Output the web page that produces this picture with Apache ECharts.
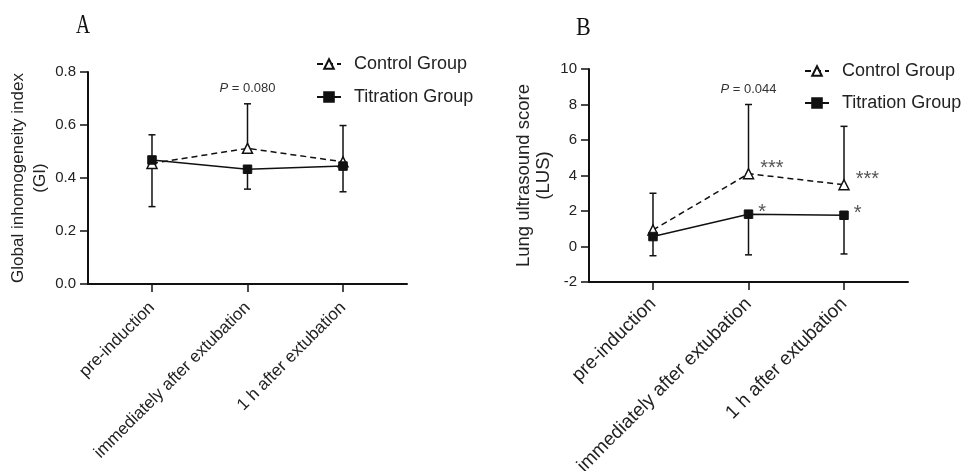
<!DOCTYPE html>
<html>
<head>
<meta charset="utf-8">
<script src="https://cdn.jsdelivr.net/npm/echarts/dist/echarts.min.js"></script>
<style>
  html, body { margin: 0; padding: 0; background: #fff; }
  #chart { width: 966px; height: 471px; }
</style>
</head>
<body>
<div id="chart"></div>
<script>
// time points
const stages = ['pre-induction', 'immediately after extubation', '1 h after extubation'];

// panel A: global inhomogeneity index (GI)
const giControl = [0.455, 0.512, 0.461];
const giControlUpper = [0.563, 0.680, 0.598];
const giTitration = [0.468, 0.433, 0.445];
const giTitrationLower = [0.292, 0.358, 0.348];
const giPText = ['', 'P = 0.080', ''];
const giTicks = [0, 0.2, 0.4, 0.6, 0.8];

// panel B: lung ultrasound score (LUS)
const lusControl = [0.93, 4.1, 3.48];
const lusControlUpper = [3.0, 8.0, 6.77];
const lusTitration = [0.56, 1.82, 1.76];
const lusTitrationLower = [-0.52, -0.47, -0.42];
const lusPText = ['', 'P = 0.044', ''];
const lusControlSig = ['', '***', '***'];
const lusTitrationSig = ['', '*', '*'];
const lusTicks = [-2, 0, 2, 4, 6, 8, 10];

const FONT = 'Liberation Sans, Arial, sans-serif';
const INK = '#111';

const chart = echarts.init(document.getElementById('chart'), null, { renderer: 'canvas' });

// vertical error bar from mean to one bound, with a small cap; optional P text above
function errorBar(pTexts) {
  return function (params, api) {
    const x = api.value(0);
    const p0 = api.coord([x, api.value(1)]);
    const p1 = api.coord([x, api.value(2)]);
    const half = 3.5;
    const kids = [
      { type: 'line', shape: { x1: p0[0], y1: p0[1], x2: p1[0], y2: p1[1] }, style: { stroke: INK, lineWidth: 1.5 } },
      { type: 'line', shape: { x1: p1[0] - half, y1: p1[1], x2: p1[0] + half, y2: p1[1] }, style: { stroke: INK, lineWidth: 1.5 } }
    ];
    const t = pTexts ? pTexts[params.dataIndex] : '';
    if (t) {
      kids.push({
        type: 'text',
        x: p1[0], y: p1[1] - 9,
        style: {
          text: '{i|P}' + t.slice(1),
          align: 'center', verticalAlign: 'bottom',
          fontSize: 13, fontFamily: FONT, fill: '#333',
          rich: { i: { fontStyle: 'italic', fontSize: 13, fontFamily: FONT, fill: '#333' } }
        }
      });
    }
    return { type: 'group', children: kids };
  };
}

function pairs(vals) { return vals.map((v, i) => [i, v]); }
function bars(means, bounds) { return means.map((v, i) => [i, v, bounds[i]]); }

function xAxisFor(gridIndex, fontSize, margin) {
  return {
    type: 'value', gridIndex: gridIndex, min: -0.67, max: 2.67,
    axisLine: { show: true, onZero: false, lineStyle: { color: INK, width: 2 } },
    axisTick: { show: true, customValues: [0, 1, 2], length: 8, lineStyle: { color: INK, width: 1.5 } },
    axisLabel: {
      customValues: [0, 1, 2], rotate: 45, margin: margin,
      formatter: v => stages[Math.round(v)],
      fontSize: fontSize, fontFamily: FONT, color: '#222'
    },
    splitLine: { show: false }
  };
}

function yAxisFor(gridIndex, ticks, name, nameSize, lineH, gap, fmt) {
  return {
    type: 'value', gridIndex: gridIndex,
    min: ticks[0], max: ticks[ticks.length - 1], interval: ticks[1] - ticks[0],
    name: name, nameLocation: 'middle', nameRotate: 90, nameGap: gap,
    nameTextStyle: { fontSize: nameSize, fontFamily: FONT, color: '#222', lineHeight: lineH, align: 'center' },
    axisLine: { show: true, onZero: false, lineStyle: { color: INK, width: 2 } },
    axisTick: { show: true, length: 8, lineStyle: { color: INK, width: 1.5 } },
    axisLabel: { margin: 12, fontSize: 15, fontFamily: FONT, color: '#222', formatter: fmt },
    splitLine: { show: false }
  };
}

function controlLine(idx, data, sig) {
  return {
    name: 'Control Group', type: 'line', xAxisIndex: idx, yAxisIndex: idx,
    data: pairs(data), symbol: 'triangle', symbolSize: 10, z: 5,
    itemStyle: { color: '#fff', borderColor: INK, borderWidth: 1.5 },
    lineStyle: { color: INK, width: 1.5, type: [6, 4] },
    label: sig ? {
      show: true, position: 'right', distance: 6, offset: [0, -5],
      formatter: p => sig[p.dataIndex], fontSize: 20, fontFamily: FONT, color: '#555'
    } : { show: false }
  };
}

function titrationLine(idx, data, sig) {
  return {
    name: 'Titration Group', type: 'line', xAxisIndex: idx, yAxisIndex: idx,
    data: pairs(data), symbol: 'rect', symbolSize: 8.5, z: 5,
    itemStyle: { color: INK, borderColor: INK, borderWidth: 1 },
    lineStyle: { color: INK, width: 1.5, type: 'solid' },
    label: sig ? {
      show: true, position: 'right', distance: 5, offset: [0, -2],
      formatter: p => sig[p.dataIndex], fontSize: 20, fontFamily: FONT, color: '#555'
    } : { show: false }
  };
}

function legendFor(left, top, gap) {
  return {
    left: left, top: top, orient: 'vertical', itemGap: gap,
    itemWidth: 24, itemHeight: 12,
    data: ['Control Group', 'Titration Group'],
    textStyle: { fontSize: 18, fontFamily: FONT, color: '#222', lineHeight: 20, padding: [0, 0, 0, 8] }
  };
}

const option = {
  animation: false,
  backgroundColor: '#fff',
  grid: [
    { left: 88, top: 72, width: 319, height: 212, outerBoundsMode: 'none', containLabel: false },
    { left: 589, top: 69, width: 319, height: 213, outerBoundsMode: 'none', containLabel: false }
  ],
  xAxis: [xAxisFor(0, 17, 21), xAxisFor(1, 19, 19)],
  yAxis: [
    yAxisFor(0, giTicks, 'Global inhomogeneity index\n(GI)', 17, 22, 32, v => v.toFixed(1)),
    yAxisFor(1, lusTicks, 'Lung ultrasound score\n(LUS)', 18.5, 20, 35, v => String(v))
  ],
  legend: [legendFor(311, 49, 13), legendFor(799, 56, 12)],
  graphic: [
    { type: 'text', left: 76, top: 12, scaleX: 0.72, style: { text: 'A', fontSize: 27, fontFamily: 'Liberation Serif, serif', fill: '#111' } },
    { type: 'text', left: 576, top: 15, scaleX: 0.85, style: { text: 'B', fontSize: 26, fontFamily: 'Liberation Serif, serif', fill: '#111' } }
  ],
  series: [
    { type: 'custom', xAxisIndex: 0, yAxisIndex: 0, z: 2, renderItem: errorBar(giPText), data: bars(giControl, giControlUpper) },
    { type: 'custom', xAxisIndex: 0, yAxisIndex: 0, z: 2, renderItem: errorBar(null), data: bars(giTitration, giTitrationLower) },
    controlLine(0, giControl, null),
    titrationLine(0, giTitration, null),
    { type: 'custom', xAxisIndex: 1, yAxisIndex: 1, z: 2, renderItem: errorBar(lusPText), data: bars(lusControl, lusControlUpper) },
    { type: 'custom', xAxisIndex: 1, yAxisIndex: 1, z: 2, renderItem: errorBar(null), data: bars(lusTitration, lusTitrationLower) },
    controlLine(1, lusControl, lusControlSig),
    titrationLine(1, lusTitration, lusTitrationSig)
  ]
};

chart.setOption(option);
</script>
</body>
</html>
